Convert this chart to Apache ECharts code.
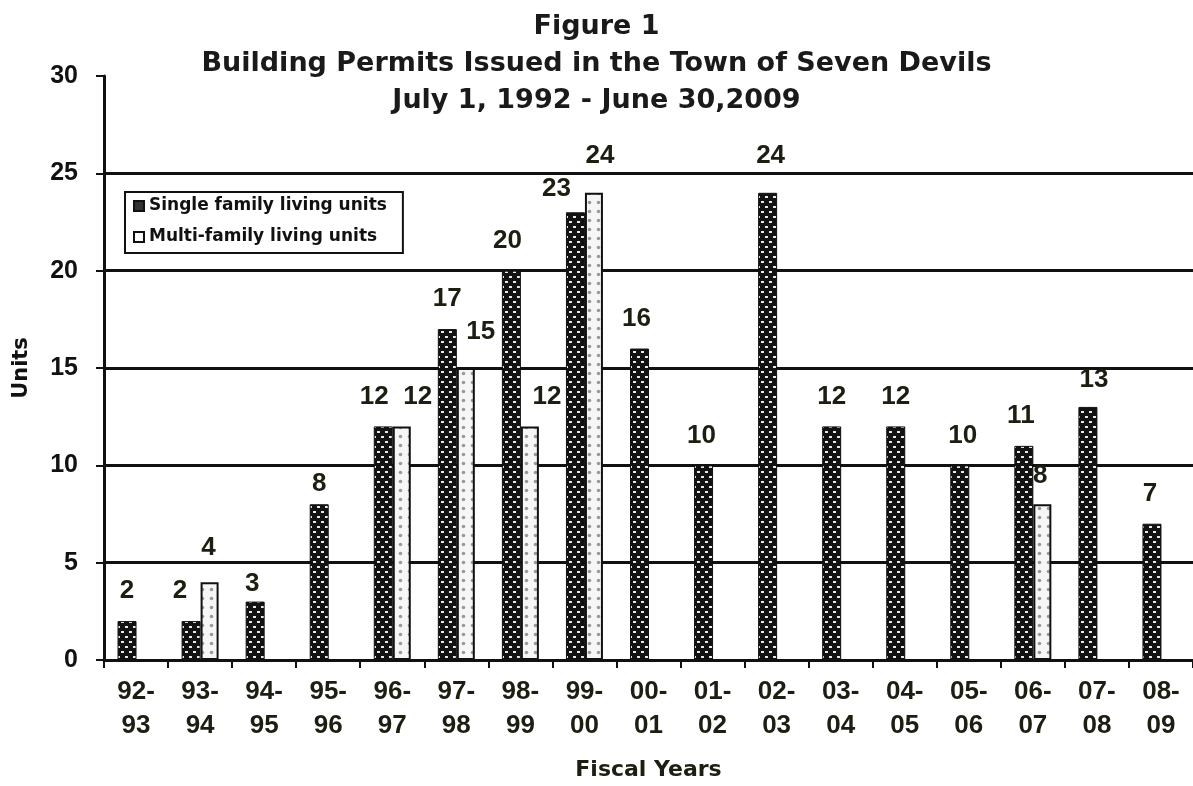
<!DOCTYPE html>
<html>
<head>
<meta charset="utf-8">
<title>Building Permits - Seven Devils</title>
<script src="https://cdn.jsdelivr.net/npm/echarts@6/dist/echarts.min.js"></script>
<style>
  html, body { margin: 0; padding: 0; background: #fff; }
  #chart { width: 1193px; height: 786px; }
</style>
</head>
<body>
<div id="chart"></div>
<script>
// fiscal years on the x axis
const years = ['92-93', '93-94', '94-95', '95-96', '96-97', '97-98', '98-99', '99-00', '00-01',
  '01-02', '02-03', '03-04', '04-05', '05-06', '06-07', '07-08', '08-09'];
// units per year (null = no bar)
const singleFamily = [2, 2, 3, 8, 12, 17, 20, 23, 16, 10, 24, 12, 12, 10, 11, 13, 7];
const multiFamily = [null, 4, null, null, 12, 15, 12, 24, null, null, null, null, null, null, 8, null, null];
const yTicks = [0, 5, 10, 15, 20, 25, 30];

// label nudges [dx, dy] so the numbers sit where the original had them
const singleNudge = { 1: [-11, 0], 2: [-3, 12], 3: [0, 10], 4: [-9, 0], 6: [-4, 0], 7: [-19, 7], 8: [-3, 0], 9: [-2, 0], 10: [3, -7], 13: [3, 0], 14: [-3, 0], 15: [6, 3], 16: [-2, 0] };
const multiNudge = { 1: [-1, -4], 4: [16, 0], 5: [15, -6], 6: [17, 0], 7: [6, -7], 14: [-2, 2] };

// bar fills, drawn as small repeating tiles
function darkTile() {
  const c = document.createElement('canvas');
  c.width = 8; c.height = 10;
  const g = c.getContext('2d');
  g.fillStyle = '#121212';
  g.fillRect(0, 0, 8, 10);
  g.fillStyle = '#e8e8e8';
  g.fillRect(1, 1, 3, 2);
  g.fillRect(5, 6, 3, 2);
  return c;
}
function lightTile() {
  const c = document.createElement('canvas');
  c.width = 9; c.height = 9;
  const g = c.getContext('2d');
  g.fillStyle = '#f6f6f6';
  g.fillRect(0, 0, 9, 9);
  g.fillStyle = '#9a9a9a';
  g.beginPath();
  g.arc(4.5, 4.5, 1.8, 0, Math.PI * 2);
  g.fill();
  return c;
}

const numFont = { fontFamily: 'Liberation Sans', fontWeight: 'bold', fontSize: 26, color: '#1d1d12' };
const wideFont = { fontFamily: 'DejaVu Sans', fontWeight: 'bold' };

function withLabels(values, nudges) {
  return values.map(function (v, i) {
    if (v == null) return null;
    const n = nudges[i];
    if (!n) return v;
    return { value: v, label: { offset: n } };
  });
}

const chart = echarts.init(document.getElementById('chart'));
chart.setOption({
  animation: false,
  backgroundColor: '#fff',
  title: {
    text: 'Figure 1\nBuilding Permits Issued in the Town of Seven Devils\nJuly 1, 1992 - June 30,2009',
    left: 'center',
    top: 3,
    textStyle: Object.assign({ fontSize: 27, lineHeight: 37, color: '#1a1a1a' }, wideFont)
  },
  legend: {
    orient: 'vertical',
    left: 125,
    top: 192,
    itemWidth: 10,
    itemHeight: 10,
    itemGap: 9,
    padding: [3, 16, 5, 8],
    borderColor: '#111',
    borderWidth: 2,
    textStyle: Object.assign({ fontSize: 17, lineHeight: 22, color: '#111' }, wideFont),
    data: [
      { name: 'Single family living units', icon: 'rect', itemStyle: { color: '#333', borderColor: '#111', borderWidth: 2 } },
      { name: 'Multi-family living units', icon: 'rect', itemStyle: { color: '#fff', borderColor: '#111', borderWidth: 2 } }
    ]
  },
  grid: { left: 104, top: 76, width: 1093, height: 589 },
  xAxis: {
    type: 'category',
    data: years,
    name: 'Fiscal Years',
    nameLocation: 'middle',
    nameGap: 99,
    nameTextStyle: Object.assign({ fontSize: 22, color: '#1d1d12' }, wideFont),
    axisLine: { lineStyle: { color: '#111', width: 3 } },
    axisTick: { show: true, length: 8, lineStyle: { color: '#111', width: 2 } },
    axisLabel: Object.assign({}, numFont, {
      margin: 15,
      lineHeight: 34,
      formatter: function (v) { return v.replace('-', '-\n'); }
    })
  },
  yAxis: {
    type: 'value',
    min: yTicks[0],
    max: yTicks[yTicks.length - 1],
    interval: yTicks[1] - yTicks[0],
    name: 'Units',
    nameLocation: 'middle',
    nameRotate: 90,
    nameGap: 72,
    nameTextStyle: Object.assign({ fontSize: 21, color: '#111' }, wideFont),
    axisLine: { show: true, lineStyle: { color: '#111', width: 3 } },
    axisTick: { show: true, length: 8, lineStyle: { color: '#111', width: 2 } },
    axisLabel: Object.assign({}, numFont, { margin: 26, fontSize: 25, color: '#111' }),
    splitLine: { show: true, showMaxLine: false, lineStyle: { color: '#111', width: 3 } }
  },
  series: [
    {
      name: 'Single family living units',
      type: 'bar',
      barWidth: 19,
      barGap: '0%',
      data: withLabels(singleFamily, singleNudge),
      itemStyle: { color: { image: darkTile(), repeat: 'repeat' }, borderColor: '#111', borderWidth: 1 },
      label: Object.assign({ show: true, position: 'top', distance: 17 }, numFont)
    },
    {
      name: 'Multi-family living units',
      type: 'bar',
      barWidth: 18,
      data: withLabels(multiFamily, multiNudge),
      itemStyle: { color: { image: lightTile(), repeat: 'repeat' }, borderColor: '#111', borderWidth: 2 },
      label: Object.assign({ show: true, position: 'top', distance: 17 }, numFont)
    }
  ]
});
</script>
</body>
</html>
